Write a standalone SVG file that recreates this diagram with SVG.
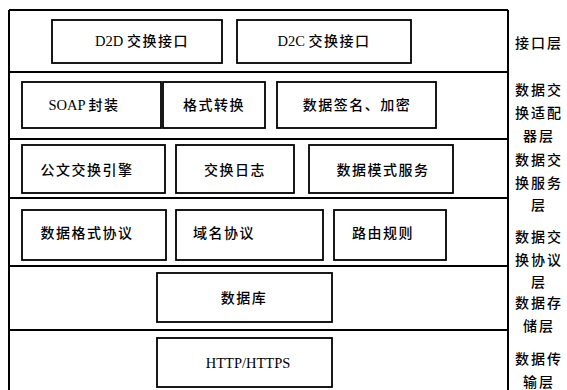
<svg xmlns="http://www.w3.org/2000/svg" width="567" height="390" viewBox="0 0 567 390">
<style>
.frame{fill:none;stroke:#000;stroke-width:2}
.box{fill:#fff;stroke:#000;stroke-width:1.8}
.t{font-family:"Liberation Serif","Noto Sans CJK SC",serif;font-size:14px;font-weight:500;text-anchor:middle;fill:#000;letter-spacing:1.5px}
.lat{letter-spacing:0;font-size:14.5px}
.lab{font-family:"Liberation Serif","Noto Sans CJK SC",serif;font-size:14px;font-weight:500;text-anchor:middle;fill:#000;letter-spacing:2px}
</style>
<rect width="567" height="390" fill="#fff"/>
<g id="connectors">
<path class="frame" d="M9,10 H508 M9,10 V391 M508,10 V391 M9,72 H508 M9,139 H508 M9,198 H508 M9,266 H508 M9,330 H508"/>
</g>
<g id="d2d"><rect class="box" x="52" y="20" width="170" height="43"/><text class="t" x="142" y="46"><tspan class="lat">D2D </tspan>交换接口</text></g>
<g id="d2c"><rect class="box" x="237" y="20" width="174" height="43"/><text class="t" x="324" y="46"><tspan class="lat">D2C </tspan>交换接口</text></g>
<g id="soap"><rect class="box" x="22" y="82" width="139" height="46"/><text class="t" x="84" y="110"><tspan class="lat">SOAP </tspan>封装</text></g>
<g id="format"><rect class="box" x="163" y="82" width="102" height="46"/><text class="t" x="214" y="110">格式转换</text></g>
<g id="sign"><rect class="box" x="277" y="82" width="159" height="46"/><text class="t" x="357" y="110">数据签名、加密</text></g>
<g id="engine"><rect class="box" x="22" y="145" width="143" height="48"/><text class="t" x="87" y="175">公文交换引擎</text></g>
<g id="log"><rect class="box" x="176" y="145" width="118" height="48"/><text class="t" x="235" y="175">交换日志</text></g>
<g id="schema"><rect class="box" x="309" y="145" width="144" height="48"/><text class="t" x="383" y="175">数据模式服务</text></g>
<g id="fmtproto"><rect class="box" x="22" y="210" width="144" height="50"/><text class="t" x="87" y="238">数据格式协议</text></g>
<g id="domain"><rect class="box" x="176" y="210" width="147" height="50"/><text class="t" x="224" y="238">域名协议</text></g>
<g id="route"><rect class="box" x="334" y="210" width="112" height="50"/><text class="t" x="383" y="238">路由规则</text></g>
<g id="db"><rect class="box" x="157" y="273" width="175" height="49"/><text class="t" x="244" y="303">数据库</text></g>
<g id="http"><rect class="box" x="157" y="338" width="175" height="49"/><text class="t lat" x="248" y="368">HTTP/HTTPS</text></g>
<g id="labels">
<text class="lab" x="539" y="48">接口层</text>
<text class="lab" x="539" y="95">数据交</text>
<text class="lab" x="539" y="118">换适配</text>
<text class="lab" x="539" y="141">器层</text>
<text class="lab" x="539" y="165">数据交</text>
<text class="lab" x="539" y="188">换服务</text>
<text class="lab" x="539" y="210">层</text>
<text class="lab" x="539" y="242">数据交</text>
<text class="lab" x="539" y="265">换协议</text>
<text class="lab" x="539" y="287">层</text>
<text class="lab" x="539" y="308">数据存</text>
<text class="lab" x="539" y="331">储层</text>
<text class="lab" x="539" y="364">数据传</text>
<text class="lab" x="539" y="387">输层</text>
</g>
</svg>
